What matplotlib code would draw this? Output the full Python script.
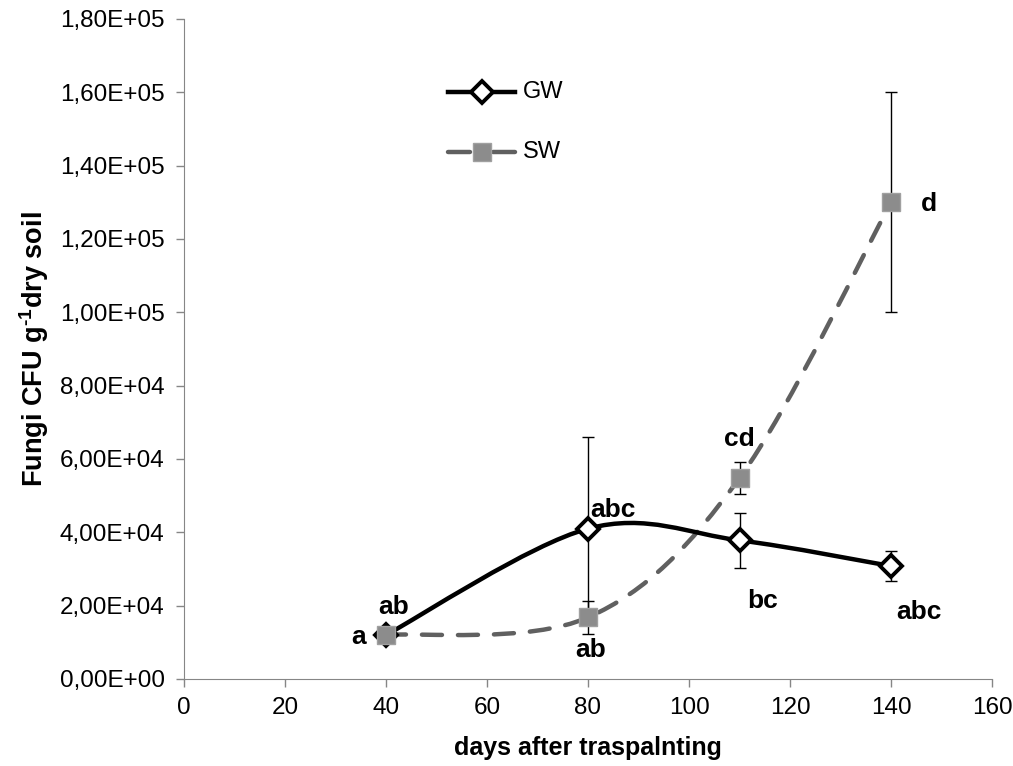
import numpy as np
import matplotlib
matplotlib.use("Agg")
import matplotlib.pyplot as plt
from matplotlib.path import Path
from matplotlib.patches import PathPatch
from matplotlib.ticker import FuncFormatter

plt.rcParams['font.family'] = ['Liberation Sans', 'DejaVu Sans']
plt.rcParams['mathtext.fontset'] = 'custom'
plt.rcParams['mathtext.rm'] = 'Liberation Sans:bold'
plt.rcParams['mathtext.bf'] = 'Liberation Sans:bold'

days = [40, 80, 110, 140]
gw = [12000, 41000, 37800, 30800]
gw_err = [1000, 25000, 7400, 4000]
sw = [12000, 16800, 54800, 130000]
sw_err = [1000, 4500, 4400, 30000]
gw_letters = ["ab", "abc", "bc", "abc"]
sw_letters = ["a", "ab", "cd", "d"]


def smooth_path(x, y):
    # Excel-like smoothed line: cubic bezier through points (Catmull-Rom)
    pts = np.column_stack([x, y]).astype(float)
    verts = [pts[0]]
    codes = [Path.MOVETO]
    n = len(pts)
    for i in range(n - 1):
        p0 = pts[i - 1] if i > 0 else pts[i]
        p1 = pts[i]
        p2 = pts[i + 1]
        p3 = pts[i + 2] if i + 2 < n else pts[i + 1]
        c1 = p1 + (p2 - p0) / 6
        c2 = p2 - (p3 - p1) / 6
        verts += [c1, c2, p2]
        codes += [Path.CURVE4] * 3
    return Path(verts, codes)


dash = (0, (4.5, 3.6))

fig = plt.figure(figsize=(10.13, 7.66), dpi=100)
ax = fig.add_axes([0.1816, 0.1136, 0.7977, 0.8616])

ax.add_patch(PathPatch(smooth_path(days, sw), fill=False, ec='#606060', lw=3.2,
                       ls=dash, capstyle='round', zorder=2))
ax.add_patch(PathPatch(smooth_path(days, gw), fill=False, ec='black', lw=3.2, zorder=3))

ax.errorbar(days, gw, yerr=gw_err, fmt='none', ecolor='black', elinewidth=1, capsize=4.5, zorder=4)
ax.errorbar(days, sw, yerr=sw_err, fmt='none', ecolor='black', elinewidth=1, capsize=4.5, zorder=4)

ax.plot(days, gw, ls='none', marker='D', ms=11.5, mfc='white', mec='black', mew=2.8, zorder=5)
ax.plot(days, sw, ls='none', marker='s', ms=13, mfc='#8c8c8c', mec='#a0a0a0', mew=1, zorder=6)

# legend drawn by hand in axes coordinates
ax.plot([0.327, 0.410], [0.889, 0.889], transform=ax.transAxes, color='black', lw=3.2, zorder=5)
ax.plot([0.3685], [0.889], transform=ax.transAxes, marker='D', ms=11.5, mfc='white',
        mec='black', mew=2.8, zorder=6)
ax.text(0.419, 0.889, 'GW', transform=ax.transAxes, fontsize=17, va='center')
ax.plot([0.327, 0.354], [0.798, 0.798], transform=ax.transAxes, color='#606060', lw=3.2,
        solid_capstyle='round', zorder=5)
ax.plot([0.383, 0.410], [0.798, 0.798], transform=ax.transAxes, color='#606060', lw=3.2,
        solid_capstyle='round', zorder=5)
ax.plot([0.3685], [0.798], transform=ax.transAxes, marker='s', ms=13, mfc='#8c8c8c',
        mec='#a0a0a0', mew=1, zorder=6)
ax.text(0.419, 0.798, 'SW', transform=ax.transAxes, fontsize=17, va='center')

# significance letters
lbl = dict(fontsize=19, fontweight='bold', ha='center', va='center')
ax.text(41.5, 19500, gw_letters[0], **lbl)
ax.text(85, 46000, gw_letters[1], **lbl)
ax.text(114.5, 21300, gw_letters[2], **lbl)
ax.text(145.5, 18200, gw_letters[3], **lbl)
ax.text(34.5, 11500, sw_letters[0], **lbl)
ax.text(80.5, 7800, sw_letters[1], **lbl)
ax.text(110, 65500, sw_letters[2], **lbl)
ax.text(147.5, 129500, sw_letters[3], **lbl)

ax.set_xlim(0, 160)
ax.set_ylim(0, 180000)
ax.set_xticks(np.arange(0, 161, 20))
ax.set_yticks(np.arange(0, 180001, 20000))
ax.yaxis.set_major_formatter(FuncFormatter(lambda v, p: f"{v:.2E}".replace('.', ',')))
ax.tick_params(labelsize=17.5, color='#868686', length=6, width=1)
ax.tick_params(axis='x', pad=7)
ax.tick_params(axis='y', pad=8)
for s in ['top', 'right']:
    ax.spines[s].set_visible(False)
for s in ['left', 'bottom']:
    ax.spines[s].set_color('#868686')

ax.set_xlabel('days after traspalnting', fontsize=18, fontweight='bold', labelpad=12)
ax.set_ylabel(r'Fungi CFU g$^{\text{-1}}$dry soil', fontsize=19.5, fontweight='bold', labelpad=6)

fig.savefig('out.png', dpi=100)
